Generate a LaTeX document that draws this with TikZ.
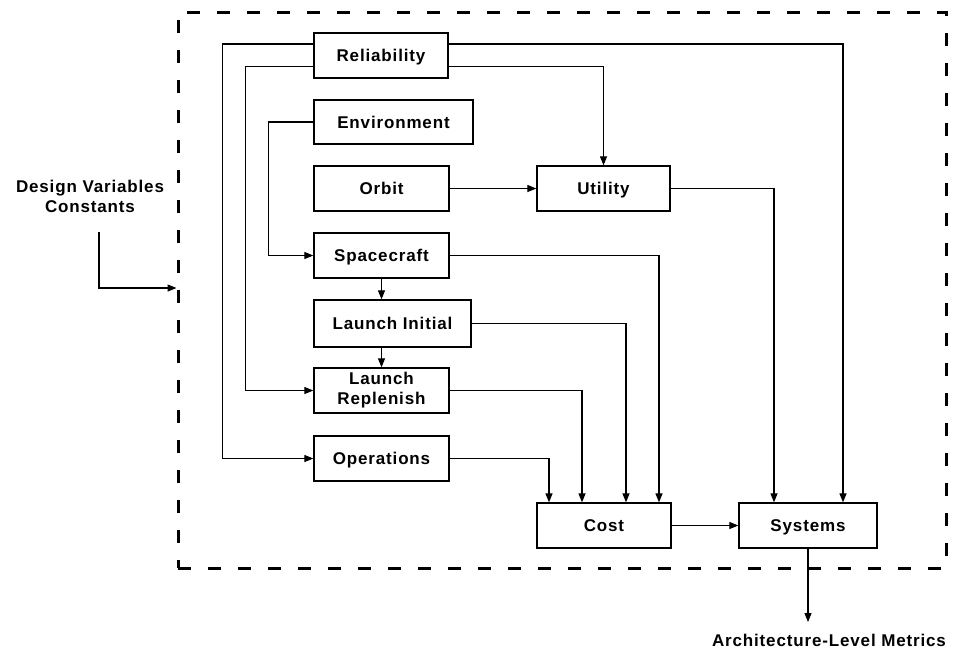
\documentclass[tikz,border=0pt]{standalone}
\usepackage{fontspec}
\setmainfont[LetterSpace=5]{Liberation Sans}
\usetikzlibrary{arrows.meta}
\tikzset{
  x=1pt, y=-1pt,
  lbl/.style={font=\fontsize{17}{20}\selectfont\bfseries},
  blk/.style={draw, line width=1.3pt, rectangle, inner sep=0pt, lbl},
  one/.style={blk, text height=12.5pt, text depth=0pt},
  con/.style={line width=1.1pt},
  arr/.style={con, -{Triangle[length=9pt,width=7pt]}},
  frame/.style={draw, line width=3pt, dash pattern=on 13pt off 17pt, rectangle, inner sep=0pt}
}
\begin{document}
\begin{tikzpicture}
\useasboundingbox (0,0) rectangle (957,651);
\node[frame, minimum width=768pt, minimum height=556pt] (fr) at (562,290) {};

\node[one, minimum width=134pt, minimum height=45pt] (rel) at (381,55.5) {Reliability};
\node[one, minimum width=159pt, minimum height=44pt] (env) at (393.5,122) {Environment};
\node[one, minimum width=135pt, minimum height=45pt] (orb) at (381.5,188.5) {Orbit};
\node[one, minimum width=133pt, minimum height=45pt] (uti) at (603.5,188.5) {Utility};
\node[one, minimum width=135pt, minimum height=45pt] (sc) at (381.5,255.5) {Spacecraft};
\node[one, minimum width=157pt, minimum height=47pt] (li) at (392.5,323.5) {Launch Initial};
\node[blk, minimum width=135pt, minimum height=45pt, align=center] (lr) at (381.5,390.5) {Launch\\Replenish};
\node[one, minimum width=135pt, minimum height=45pt] (ops) at (381.5,458.5) {Operations};
\node[one, minimum width=134pt, minimum height=45pt] (cost) at (604,525.5) {Cost};
\node[one, minimum width=138pt, minimum height=45pt] (sys) at (808,525.5) {Systems};

\node[lbl, align=center] (dv) at (90,196) {Design Variables\\Constants};
\node[lbl] (alm) at (829,640) {Architecture-Level Metrics};

\coordinate (dvs) at (99,232);
\coordinate (dvc) at (99,288);
\coordinate (out) at (808,622);

% left side feeds
\draw[arr] ([yshift=11.5pt]rel.west) -- ++(-91pt,0) |- (ops.west);
\draw[arr] ([yshift=-11pt]rel.west) -- ++(-68pt,0) |- (lr.west);
\draw[arr] (env.west) -- ++(-45pt,0) |- (sc.west);

% right side feeds
\draw[arr] ([yshift=11.5pt]rel.east) -| ([xshift=35pt]sys.north);
\draw[arr] ([yshift=-11pt]rel.east) -| (uti.north);
\draw[arr] (orb.east) -- (uti.west);
\draw[arr] (uti.east) -| ([xshift=-34pt]sys.north);

\draw[arr] (sc.east) -| ([xshift=55pt]cost.north);
\draw[arr] (li.east) -| ([xshift=22pt]cost.north);
\draw[arr] (lr.east) -| ([xshift=-22pt]cost.north);
\draw[arr] (ops.east) -| ([xshift=-55pt]cost.north);

\draw[arr] (sc.south) -- (sc.south |- li.north);
\draw[arr] (lr.north |- li.south) -- (lr.north);

\draw[arr] (cost.east) -- (sys.west);
\draw[arr] (sys.south) -- (out);

\draw[arr] (dvs) -- (dvc) -- (fr.west |- dvc);
\end{tikzpicture}
\end{document}
